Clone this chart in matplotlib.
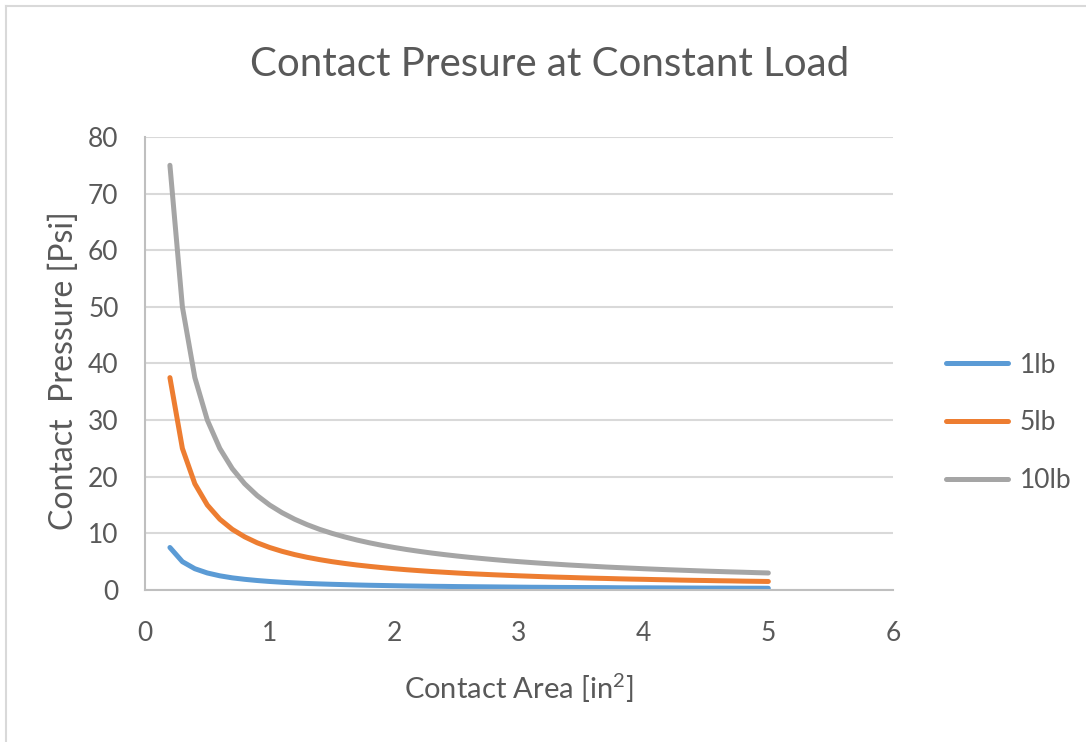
import matplotlib
matplotlib.use('Agg')
import matplotlib.pyplot as plt
from matplotlib.lines import Line2D

plt.rcParams['font.family'] = ['Lato', 'DejaVu Sans']
plt.rcParams['mathtext.fontset'] = 'custom'
plt.rcParams['mathtext.rm'] = 'Lato'
plt.rcParams['mathtext.default'] = 'regular'

# contact area [in^2]
area = [0.2, 0.3, 0.4, 0.5, 0.6, 0.7, 0.8, 0.9, 1.0, 1.1, 1.2, 1.3, 1.4, 1.5,
        1.6, 1.7, 1.8, 1.9, 2.0, 2.1, 2.2, 2.3, 2.4, 2.5, 2.6, 2.7, 2.8, 2.9,
        3.0, 3.1, 3.2, 3.3, 3.4, 3.5, 3.6, 3.7, 3.8, 3.9, 4.0, 4.1, 4.2, 4.3,
        4.4, 4.5, 4.6, 4.7, 4.8, 4.9, 5.0]
# contact pressure [psi] for each load
p_1lb = [7.5, 5.0, 3.75, 3.0, 2.5, 2.14, 1.88, 1.67, 1.5, 1.36, 1.25, 1.15, 1.07,
         1.0, 0.94, 0.88, 0.83, 0.79, 0.75, 0.71, 0.68, 0.65, 0.63, 0.6, 0.58,
         0.56, 0.54, 0.52, 0.5, 0.48, 0.47, 0.45, 0.44, 0.43, 0.42, 0.41, 0.39,
         0.38, 0.38, 0.37, 0.36, 0.35, 0.34, 0.33, 0.33, 0.32, 0.31, 0.31, 0.3]
p_5lb = [37.5, 25.0, 18.75, 15.0, 12.5, 10.71, 9.38, 8.33, 7.5, 6.82, 6.25, 5.77,
         5.36, 5.0, 4.69, 4.41, 4.17, 3.95, 3.75, 3.57, 3.41, 3.26, 3.13, 3.0,
         2.88, 2.78, 2.68, 2.59, 2.5, 2.42, 2.34, 2.27, 2.21, 2.14, 2.08, 2.03,
         1.97, 1.92, 1.88, 1.83, 1.79, 1.74, 1.70, 1.67, 1.63, 1.60, 1.56, 1.53, 1.5]
p_10lb = [75.0, 50.0, 37.5, 30.0, 25.0, 21.43, 18.75, 16.67, 15.0, 13.64, 12.5,
          11.54, 10.71, 10.0, 9.38, 8.82, 8.33, 7.89, 7.5, 7.14, 6.82, 6.52, 6.25,
          6.0, 5.77, 5.56, 5.36, 5.17, 5.0, 4.84, 4.69, 4.55, 4.41, 4.29, 4.17,
          4.05, 3.95, 3.85, 3.75, 3.66, 3.57, 3.49, 3.41, 3.33, 3.26, 3.19, 3.13,
          3.06, 3.0]
labels = ['1lb', '5lb', '10lb']
colors = ['#5B9BD5', '#ED7D31', '#A5A5A5']
text_c = '#595959'

fig = plt.figure(figsize=(10.86, 7.42), dpi=100)
ax = fig.add_axes([0.1335, 0.2049, 0.6888, 0.6105])

for ys, lab, c in zip([p_1lb, p_5lb, p_10lb], labels, colors):
    ax.plot(area, ys, color=c, lw=3.6, label=lab, solid_capstyle='round')

ax.set_xlim(0, 6)
ax.set_ylim(0, 80)
ax.set_xticks(range(0, 7))
ax.set_yticks(range(0, 81, 10))
ax.grid(axis='y', color='#D9D9D9', lw=1.5)
ax.set_axisbelow(True)
for s in ['top', 'right']:
    ax.spines[s].set_visible(False)
for s in ['left', 'bottom']:
    ax.spines[s].set_color('#BFBFBF')
    ax.spines[s].set_linewidth(1.5)
ax.tick_params(length=0, labelsize=19, labelcolor=text_c)
ax.tick_params(axis='y', pad=19)
ax.tick_params(axis='x', pad=22)

fig.text(550/1086, 1 - 65/742, 'Contact Presure at Constant Load', fontsize=29,
         color=text_c, ha='center', va='center')
ax.set_xlabel('Contact Area [in$^2$]', fontsize=21, color=text_c)
ax.xaxis.set_label_coords(0.5, (590 - 688) / 453)
ax.xaxis.label.set_verticalalignment('center')
ax.set_ylabel('Contact  Pressure [Psi]', fontsize=23, color=text_c)
ax.yaxis.set_label_coords((64 - 145) / 748, (590 - 371) / 453)
ax.yaxis.label.set_verticalalignment('center')

leg = fig.legend(loc='center left', bbox_to_anchor=(946/1086, 1 - 423/742),
                 frameon=False, borderpad=0, borderaxespad=0,
                 fontsize=19, labelcolor=text_c, handlelength=2.35,
                 labelspacing=1.25, handletextpad=0.45)

# chart frame
fig.add_artist(Line2D([6/1086, 6/1086], [0, 1 - 6/742], color='#D9D9D9', lw=1.5))
fig.add_artist(Line2D([6/1086, 1], [1 - 6/742, 1 - 6/742], color='#D9D9D9', lw=1.5))

fig.savefig('out.png', dpi=100)
